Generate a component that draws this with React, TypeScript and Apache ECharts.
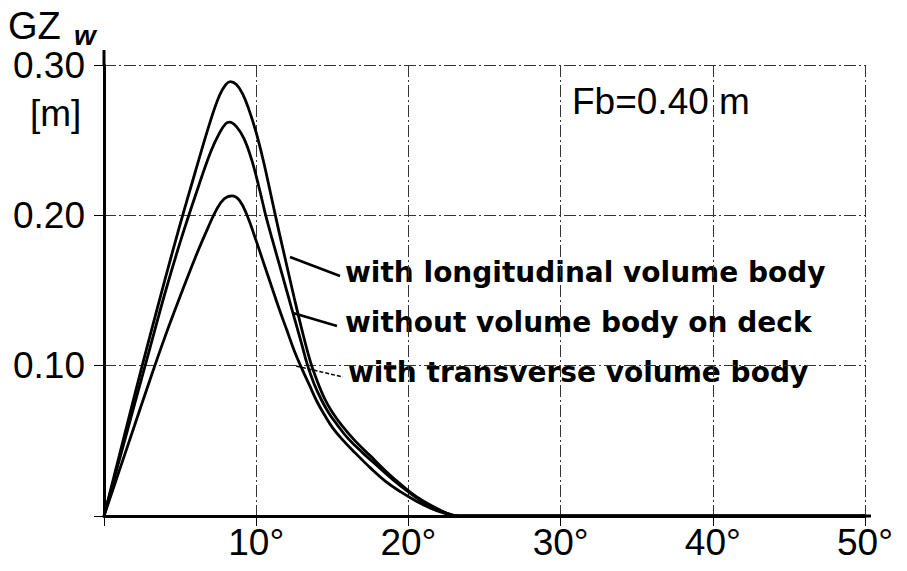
import React, { useEffect, useRef } from 'react';
import * as echarts from 'echarts';

// heel angle [deg], GZw [m]
const longitudinal: [number, number][] = [
  [0, 0], [1, 0.040], [2, 0.080], [3, 0.119], [4, 0.157], [5, 0.194], [6, 0.229], [7, 0.263],
  [7.6, 0.280], [8.0, 0.287], [8.3, 0.289], [8.7, 0.287], [9.1, 0.281], [9.5, 0.271], [10.0, 0.255],
  [10.5, 0.235], [11.0, 0.212], [11.5, 0.189], [12.0, 0.167], [12.5, 0.145], [13.0, 0.124],
  [13.55, 0.103], [14.0, 0.090], [14.5, 0.078], [15.0, 0.069], [15.65, 0.060], [16.5, 0.050],
  [17.5, 0.040], [18.5, 0.030], [19.5, 0.021], [20.5, 0.013], [21.5, 0.007], [22.5, 0.002],
  [23.3, 0], [50, 0],
];
const withoutBody: [number, number][] = [
  [0, 0], [1, 0.037], [2, 0.074], [3, 0.111], [4, 0.148], [5, 0.182], [6, 0.213], [7, 0.242],
  [7.6, 0.255], [8.0, 0.261], [8.25, 0.262], [8.7, 0.259], [9.2, 0.251], [9.7, 0.237], [10.2, 0.218],
  [10.6, 0.201], [11.0, 0.186], [11.5, 0.168], [12.0, 0.150], [12.5, 0.132], [13.0, 0.114],
  [13.35, 0.101], [13.8, 0.088], [14.3, 0.077], [14.8, 0.068], [15.3, 0.061], [16.0, 0.052],
  [17.0, 0.042], [18.0, 0.033], [19.0, 0.024], [20.0, 0.016], [21.0, 0.009], [22.0, 0.004],
  [23.3, 0], [50, 0],
];
const transverse: [number, number][] = [
  [0, 0], [1, 0.030], [2, 0.060], [3, 0.090], [4, 0.119], [5, 0.146], [6, 0.172], [6.8, 0.191],
  [7.4, 0.204], [7.9, 0.211], [8.4, 0.213], [8.9, 0.210], [9.4, 0.200], [10.0, 0.183], [10.5, 0.168],
  [11.0, 0.153], [11.5, 0.138], [12.0, 0.124], [12.5, 0.110], [13.0, 0.098], [13.5, 0.087],
  [14.0, 0.076], [14.5, 0.067], [15.0, 0.059], [15.65, 0.051], [16.5, 0.042], [17.5, 0.032],
  [18.5, 0.023], [19.5, 0.016], [20.5, 0.010], [21.5, 0.005], [22.3, 0.002], [23.2, 0], [50, 0],
];
const seriesNames = [
  'with longitudinal volume body',
  'without volume body on deck',
  'with transverse volume body',
];
const xMax = 50;
const xStep = 10;
const yMax = 0.3;
const yStep = 0.1;
const annotation = 'Fb=0.40 m';

export default function App() {
  const ref = useRef<HTMLDivElement>(null);
  useEffect(() => {
    if (!ref.current) return;
    const chart = echarts.init(ref.current, undefined, { renderer: 'svg' });
    const numFont = 'Liberation Sans';
    const lblFont = 'DejaVu Sans';
    const lineStyle = { color: '#000', width: 2.8 };
    const mk = (name: string, data: [number, number][]) => ({
      name,
      type: 'line',
      data,
      smooth: 0.4,
      showSymbol: false,
      lineStyle,
      z: 3,
    });
    const labelPos = [
      { x: 345, y: 272, lx1: 290, ly1: 257, lx2: 340, ly2: 276, dashed: false },
      { x: 345, y: 322, lx1: 293, ly1: 313, lx2: 337, ly2: 326, dashed: false },
      { x: 348, y: 372, lx1: 296, ly1: 366, lx2: 343, ly2: 377, dashed: true },
    ];
    const graphics: any[] = [
      { type: 'line', shape: { x1: 104, y1: 50, x2: 104, y2: 66 }, style: { stroke: '#000', lineWidth: 3 } },
      { type: 'line', shape: { x1: 860, y1: 516, x2: 871, y2: 516 }, style: { stroke: '#000', lineWidth: 3 } },
      { type: 'text', x: 8, y: 26, style: { text: 'GZ', font: `38px "${numFont}"`, fill: '#000', verticalAlign: 'middle' } },
      { type: 'text', x: 74, y: 35, style: { text: 'w', font: `italic bold 28px "${numFont}"`, fill: '#000', verticalAlign: 'middle' } },
      { type: 'text', x: 30, y: 113, style: { text: '[m]', font: `37px "${numFont}"`, fill: '#000', verticalAlign: 'middle' } },
      { type: 'text', x: 572, y: 101, style: { text: annotation, font: `37px "${numFont}"`, fill: '#000', verticalAlign: 'middle' } },
    ];
    labelPos.forEach((p, i) => {
      graphics.push({
        type: 'line',
        shape: { x1: p.lx1, y1: p.ly1, x2: p.lx2, y2: p.ly2 },
        style: { stroke: '#000', lineWidth: p.dashed ? 1.5 : 2.5, lineDash: p.dashed ? [4, 2] : null },
      });
      graphics.push({
        type: 'text', x: p.x, y: p.y,
        style: { text: seriesNames[i], font: `bold 28px "${lblFont}"`, fill: '#000', verticalAlign: 'middle' },
      });
    });
    chart.setOption({
      animation: false,
      backgroundColor: '#fff',
      grid: { left: 104, right: 42, top: 65, bottom: 55, containLabel: false, outerBoundsMode: 'none' },
      xAxis: {
        type: 'value', min: 0, max: xMax, interval: xStep,
        axisLine: { show: true, lineStyle: { color: '#000', width: 3 } },
        axisTick: { show: true, length: 10, lineStyle: { color: '#000', width: 1 } },
        axisLabel: {
          margin: 8, color: '#000', fontFamily: numFont, fontSize: 37,
          formatter: (v: number) => (v === 0 ? '' : `${v}°`),
        },
        splitLine: { show: true, lineStyle: { color: '#333', width: 1, type: [12, 3, 2, 3] } },
      },
      yAxis: {
        type: 'value', min: 0, max: yMax, interval: yStep,
        axisLine: { show: true, lineStyle: { color: '#000', width: 3 } },
        axisTick: { show: true, length: 10, lineStyle: { color: '#000', width: 1 } },
        axisLabel: {
          margin: 19, color: '#000', fontFamily: numFont, fontSize: 37,
          formatter: (v: number) => (v === 0 ? '' : v.toFixed(2)),
        },
        splitLine: { show: true, lineStyle: { color: '#333', width: 1, type: [12, 3, 2, 3] } },
      },
      series: [mk(seriesNames[0], longitudinal), mk(seriesNames[1], withoutBody), mk(seriesNames[2], transverse)],
      graphic: graphics,
    });
    return () => chart.dispose();
  }, []);
  return <div ref={ref} style={{ position: 'fixed', left: 0, top: 0, width: 907, height: 571 }} />;
}
